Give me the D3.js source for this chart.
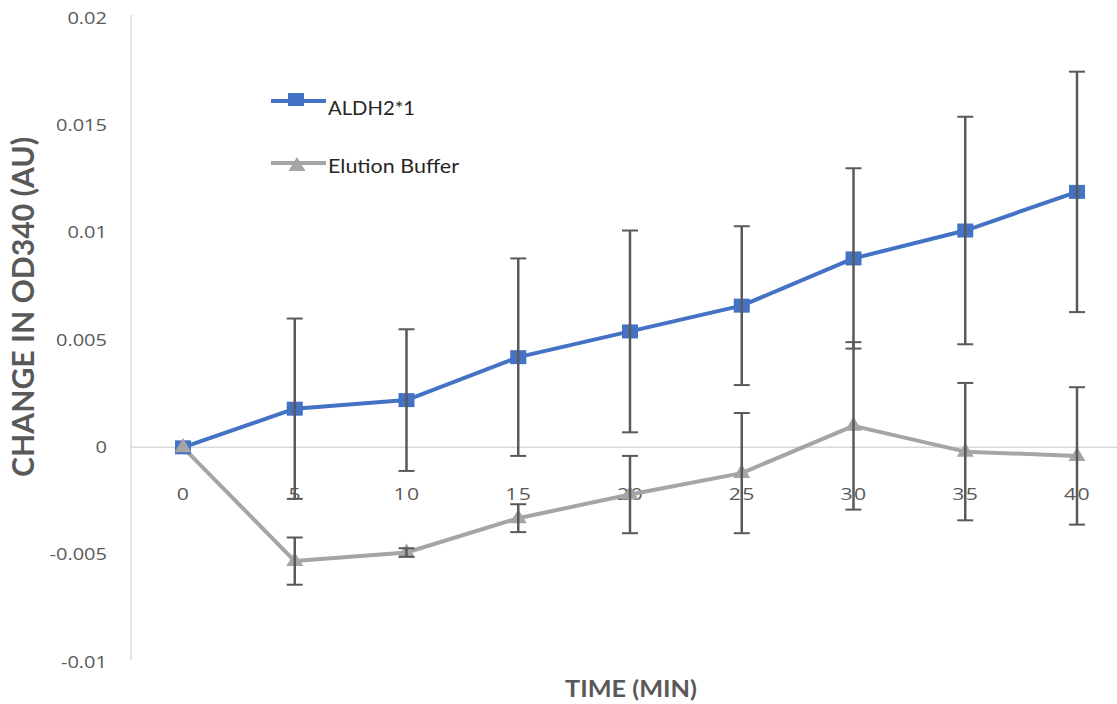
<!DOCTYPE html>
<html>
<head>
<meta charset="utf-8">
<script src="https://cdn.jsdelivr.net/npm/d3@7"></script>
<style>
  body { margin: 0; background: #fff; }
  svg { display: block; }
</style>
</head>
<body>
<div class="chart"></div>
<script>
// data
const times = [0, 5, 10, 15, 20, 25, 30, 35, 40];
const aldhMean = [0, 0.0018, 0.0022, 0.0042, 0.0054, 0.0066, 0.0088, 0.0101, 0.0119];
const aldhErr  = [0, 0.0042, 0.0033, 0.0046, 0.0047, 0.0037, 0.0042, 0.0053, 0.0056];
const bufMean  = [0, -0.0053, -0.0049, -0.0033, -0.0022, -0.0012, 0.0010, -0.0002, -0.0004];
const bufErr   = [0, 0.0011, 0.0002, 0.00065, 0.0018, 0.0028, 0.0039, 0.0032, 0.0032];
const yTicks = [-0.01, -0.005, 0, 0.005, 0.01, 0.015, 0.02];
const seriesNames = ['ALDH2*1', 'Elution Buffer'];

const width = 1117, height = 704;
const blue = '#4472C4', grey = '#A5A5A5', errColor = '#595959', textColor = '#595959';
const stretch = 1.25; // the picture is a bit wider than tall, text included

let svg = d3.select('.chart')
    .append('svg')
    .attr('width', width)
    .attr('height', height);

let x_scale = d3.scalePoint()
    .domain(times)
    .range([183, 1077]);
let y_scale = d3.scaleLinear()
    .domain([-0.01, 0.02])
    .range([662, 18]);

// axis lines
svg.append('line')
    .attr('x1', 131).attr('x2', 131)
    .attr('y1', 15).attr('y2', 660)
    .attr('stroke', '#d9d9d9').attr('stroke-width', 1.5);
svg.append('line')
    .attr('x1', 131).attr('x2', width)
    .attr('y1', y_scale(0)).attr('y2', y_scale(0))
    .attr('stroke', '#d9d9d9').attr('stroke-width', 1.5);

// y axis labels
let y_Axis = d3.axisLeft()
    .scale(y_scale)
    .tickValues(yTicks)
    .tickSize(0)
    .tickPadding(0)
    .tickFormat(d => d === 0 ? '0' : String(+d.toFixed(3)));
let gy = svg.append('g')
    .attr('transform', `translate(${107}, ${0})`)
    .call(y_Axis);
gy.select('.domain').remove();
gy.selectAll('text')
    .attr('fill', textColor)
    .attr('x', 0)
    .attr('transform', `scale(${stretch}, 1)`)
    .style('font-family', 'Open Sans, sans-serif')
    .style('font-size', '16px');

// x axis labels, well under the zero line
let x_Axis = d3.axisBottom()
    .scale(x_scale)
    .tickSize(0)
    .tickPadding(0)
    .tickFormat(d => d);
let gx = svg.append('g')
    .attr('transform', `translate(${0}, ${500})`)
    .call(x_Axis);
gx.select('.domain').remove();
gx.selectAll('text')
    .attr('fill', textColor)
    .attr('y', 0)
    .attr('dy', 0)
    .attr('transform', `scale(${stretch}, 1)`)
    .style('letter-spacing', '1px')
    .style('font-family', 'Open Sans, sans-serif')
    .style('font-size', '17px');

let rows = times.map((t, i) => ({t: t, a: aldhMean[i], ae: aldhErr[i], b: bufMean[i], be: bufErr[i]}));

function drawErrors(key, errKey) {
    let g = svg.append('g')
        .attr('stroke', errColor);
    let r = rows.filter(d => d[errKey] > 0);
    g.selectAll('.v')
        .data(r)
        .join('line')
        .attr('stroke-width', 2.5)
        .attr('x1', d => x_scale(d.t)).attr('x2', d => x_scale(d.t))
        .attr('y1', d => y_scale(d[key] + d[errKey]))
        .attr('y2', d => y_scale(d[key] - d[errKey]));
    [1, -1].forEach(s => {
        g.selectAll('.c' + s)
            .data(r)
            .join('line')
            .attr('stroke-width', 2)
            .attr('x1', d => x_scale(d.t) - 8).attr('x2', d => x_scale(d.t) + 8)
            .attr('y1', d => y_scale(d[key] + s * d[errKey]))
            .attr('y2', d => y_scale(d[key] + s * d[errKey]));
    });
}

let line = key => d3.line()
    .x(d => x_scale(d.t))
    .y(d => y_scale(d[key]));

// triangle marker, 17 wide and 14 tall, tip up
let tri = 'M0,-9L8.5,5L-8.5,5Z';

// elution buffer (grey triangles)
svg.append('path')
    .datum(rows)
    .attr('d', line('b'))
    .attr('fill', 'none')
    .attr('stroke', grey)
    .attr('stroke-width', 4)
    .attr('stroke-linejoin', 'round');
svg.append('g')
    .selectAll('path')
    .data(rows)
    .join('path')
    .attr('d', tri)
    .attr('transform', d => `translate(${x_scale(d.t)}, ${y_scale(d.b)})`)
    .attr('fill', grey);

// ALDH2*1 (blue squares)
svg.append('path')
    .datum(rows)
    .attr('d', line('a'))
    .attr('fill', 'none')
    .attr('stroke', blue)
    .attr('stroke-width', 4)
    .attr('stroke-linejoin', 'round');
svg.append('g')
    .selectAll('rect')
    .data(rows)
    .join('rect')
    .attr('x', d => x_scale(d.t) - 8)
    .attr('y', d => y_scale(d.a) - 7)
    .attr('width', 16)
    .attr('height', 14)
    .attr('fill', blue);

// grey triangle at 0 sits over the blue square in the picture
svg.append('path')
    .attr('d', tri)
    .attr('transform', `translate(${x_scale(0)}, ${y_scale(bufMean[0])})`)
    .attr('fill', grey);

drawErrors('b', 'be');
drawErrors('a', 'ae');

// legend
let legend = svg.append('g')
    .style('font-family', 'Lato, sans-serif')
    .style('font-size', '20px');
legend.append('line')
    .attr('x1', 271).attr('x2', 326).attr('y1', 101).attr('y2', 101)
    .attr('stroke', blue).attr('stroke-width', 4);
legend.append('rect')
    .attr('x', 288).attr('y', 93).attr('width', 16).attr('height', 13)
    .attr('fill', blue);
legend.append('text')
    .attr('x', 328).attr('y', 115)
    .attr('fill', '#262626')
    .attr('textLength', 87)
    .attr('lengthAdjust', 'spacingAndGlyphs')
    .text(seriesNames[0]);
legend.append('line')
    .attr('x1', 271).attr('x2', 326).attr('y1', 163).attr('y2', 163)
    .attr('stroke', grey).attr('stroke-width', 4);
legend.append('path')
    .attr('d', tri)
    .attr('transform', `translate(${297}, ${166})`)
    .attr('fill', grey);
legend.append('text')
    .attr('x', 328).attr('y', 173)
    .attr('fill', '#262626')
    .attr('textLength', 131)
    .attr('lengthAdjust', 'spacingAndGlyphs')
    .text(seriesNames[1]);

// axis titles
svg.append('text')
    .attr('transform', `translate(${34}, ${307}) rotate(-90) scale(1, ${stretch})`)
    .attr('text-anchor', 'middle')
    .attr('fill', textColor)
    .attr('textLength', 340)
    .attr('lengthAdjust', 'spacingAndGlyphs')
    .style('font-family', 'Lato, sans-serif')
    .style('font-weight', 'bold')
    .style('font-size', '24px')
    .text('CHANGE IN OD340 (AU)');
svg.append('text')
    .attr('x', 631).attr('y', 697)
    .attr('text-anchor', 'middle')
    .attr('fill', textColor)
    .attr('textLength', 132)
    .attr('lengthAdjust', 'spacingAndGlyphs')
    .style('font-family', 'Lato, sans-serif')
    .style('font-weight', 'bold')
    .style('font-size', '22px')
    .text('TIME (MIN)');
</script>
</body>
</html>
